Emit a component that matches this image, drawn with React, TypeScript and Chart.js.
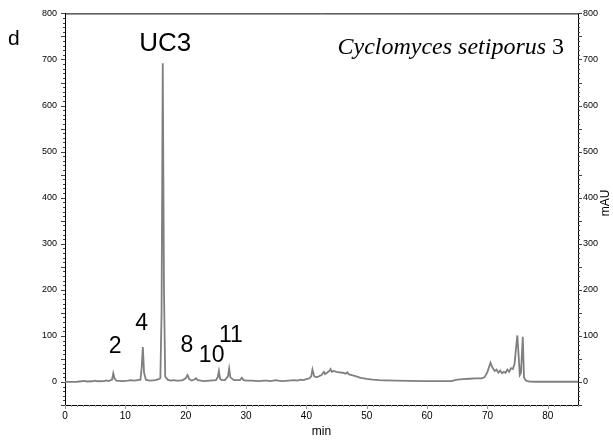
import React, { useEffect, useRef } from "react";
import { Chart, registerables } from "chart.js";

Chart.register(...registerables);

// Retention time (min)
const times: number[] = [
  0, 2, 3.3, 3.6, 4.5, 5, 5.4, 6.5, 6.8, 7.2, 7.8, 8.0, 8.2, 8.5, 9.5, 10.5, 10.8, 11.5, 12.0, 12.5,
  12.7, 12.9, 13.1, 13.4, 14, 15, 15.5, 15.8, 16.0, 16.2, 16.4, 16.6, 17, 17.5, 18, 18.5, 19, 19.5,
  20.0, 20.3, 20.6, 21, 21.5, 21.7, 22, 23, 24, 25, 25.3, 25.5, 25.7, 26, 26.5, 27.0, 27.2, 27.4, 28,
  29, 29.3, 29.6, 30, 31, 32, 33, 33.5, 34, 35, 35.3, 36, 37, 38, 38.5, 39, 39.5, 40, 40.5, 40.8,
  41.0, 41.3, 41.7, 42, 42.5, 42.9, 43.1, 43.5, 43.8, 44, 44.2, 44.5, 45, 45.5, 46, 46.5, 46.8, 47,
  47.5, 48, 48.5, 49, 50, 51, 52, 53, 55, 57, 60, 63, 64, 65, 66, 67, 68, 69, 69.5, 70, 70.5, 70.8,
  71.2, 71.5, 71.8, 72.1, 72.4, 72.7, 73, 73.3, 73.6, 73.9, 74.2, 74.5, 74.7, 74.95, 75.15, 75.35,
  75.55, 75.85, 76.05, 76.3, 76.6, 77, 78, 80, 85,
];

// Absorbance (mAU)
const absorbance: number[] = [
  0, 0.5, 2.5, 1, 1.5, 3, 1.5, 2, 3.5, 2, 5, 19, 8, 3, 2, 3, 4, 3, 4, 5,
  30, 76, 20, 5, 3, 4, 6, 8, 150, 692, 200, 12, 5, 3, 4, 3, 3, 4,
  8, 15, 6, 3, 6, 8, 4, 2, 3, 4, 10, 24, 7, 4, 4, 12, 29, 10, 4,
  4, 9, 4, 3, 3, 2, 3, 3, 2, 4, 3, 2, 3, 4, 3, 5, 4, 6, 8, 12,
  27, 12, 10, 12, 15, 22, 17, 21, 24, 28, 22, 24, 22, 21, 20, 18, 21, 17,
  15, 13, 11, 9, 6.5, 5, 4, 3.5, 3, 2.5, 2, 2, 2, 5, 6, 7, 8, 8, 10, 22, 42, 32,
  24, 27, 20, 25, 19, 22, 20, 27, 22, 30, 28, 40, 70, 101, 60, 15, 20,
  98, 10, 4, 2, 1, 0.5, 0.5, 0.5,
];

// Axis tick labels
const xTickValues: number[] = [0, 10, 20, 30, 40, 50, 60, 70, 80];
const yTickValues: number[] = [0, 100, 200, 300, 400, 500, 600, 700, 800];

// Peak labels: [text, time, mAU]
const peakLabels: [string, number, number][] = [
  ["2", 8.3, 62],
  ["4", 12.7, 112],
  ["8", 20.2, 65],
  ["10", 24.3, 43],
  ["11", 27.5, 86],
];

const App: React.FC = () => {
  const canvasRef = useRef<HTMLCanvasElement | null>(null);

  useEffect(() => {
    if (!canvasRef.current) return;

    const decorPlugin = {
      id: "decor",
      afterDraw(chart: any) {
        const ctx = chart.ctx as CanvasRenderingContext2D;
        const xs = chart.scales.x;
        const ys = chart.scales.y;
        const ca = chart.chartArea;
        ctx.save();
        // top border
        ctx.strokeStyle = "#000";
        ctx.lineWidth = 1;
        ctx.beginPath();
        ctx.moveTo(ca.left, ca.top + 0.5);
        ctx.lineTo(ca.right, ca.top + 0.5);
        ctx.stroke();

        // tick marks
        ctx.strokeStyle = "#444";
        ctx.lineWidth = 1;
        for (let v = -50; v <= 800; v += 10) {
          const py = Math.round(ys.getPixelForValue(v)) + 0.5;
          const len = v % 50 === 0 ? 4 : 2;
          ctx.beginPath();
          ctx.moveTo(ca.left, py);
          ctx.lineTo(ca.left - len, py);
          ctx.moveTo(ca.right, py);
          ctx.lineTo(ca.right + len, py);
          ctx.stroke();
        }
        ctx.strokeStyle = "#999";
        for (let t = 0; t <= 85; t += 1) {
          const px = Math.round(xs.getPixelForValue(t)) + 0.5;
          const len = t % 10 === 0 ? 4 : 2;
          ctx.beginPath();
          ctx.moveTo(px, ca.bottom);
          ctx.lineTo(px, ca.bottom + len);
          ctx.stroke();
        }

        // texts
        ctx.fillStyle = "#000";
        ctx.textBaseline = "alphabetic";
        ctx.font = "21px 'Liberation Sans', Arial, sans-serif";
        ctx.textAlign = "left";
        ctx.fillText("d", 8, 45);

        ctx.font = "26px 'Liberation Sans', Arial, sans-serif";
        ctx.textAlign = "center";
        ctx.fillText("UC3", xs.getPixelForValue(16.6), ys.getPixelForValue(718));

        ctx.font = "23px 'Liberation Sans', Arial, sans-serif";
        for (const [txt, t, v] of peakLabels) {
          ctx.fillText(txt, xs.getPixelForValue(t), ys.getPixelForValue(v));
        }

        // species name
        const rightX = xs.getPixelForValue(82.7);
        const baseY = ys.getPixelForValue(711);
        ctx.textAlign = "right";
        ctx.font = "24px 'Liberation Serif', 'Times New Roman', serif";
        const numW = ctx.measureText("3").width;
        ctx.fillText("3", rightX, baseY);
        ctx.font = "italic 24px 'Liberation Serif', 'Times New Roman', serif";
        ctx.fillText("Cyclomyces setiporus ", rightX - numW, baseY);

        // mAU
        ctx.font = "12px 'Liberation Sans', Arial, sans-serif";
        ctx.textAlign = "center";
        ctx.textBaseline = "middle";
        ctx.translate(606, 203);
        ctx.rotate(-Math.PI / 2);
        ctx.fillText("mAU", 0, 0);
        ctx.restore();
      },
    };

    const yTicksOpts = {
      font: { family: "'Liberation Sans', Arial, sans-serif", size: 9 },
      color: "#000",
    };

    const chart = new Chart(canvasRef.current, {
      type: "line",
      data: {
        datasets: [
          {
            data: times.map((t, i) => ({ x: t, y: absorbance[i] })),
            borderColor: "#7f7f7f",
            borderWidth: 1.8,
            pointRadius: 0,
            fill: false,
            tension: 0,
          },
        ],
      },
      options: {
        responsive: false,
        animation: false,
        events: [],
        layout: { padding: { top: 12, left: 0, right: 0, bottom: 0 } },
        plugins: { legend: { display: false }, tooltip: { enabled: false } },
        scales: {
          x: {
            type: "linear",
            position: "bottom",
            min: 0,
            max: 85,
            afterBuildTicks: (s: any) => {
              s.ticks = xTickValues.map((v) => ({ value: v }));
            },
            afterFit: (s: any) => {
              s.height = 38;
            },
            grid: { display: false, drawTicks: false },
            border: { display: true, color: "#000", width: 1 },
            ticks: {
              font: { family: "'Liberation Sans', Arial, sans-serif", size: 10 },
              color: "#000",
              padding: 5,
              maxRotation: 0,
            },
            title: {
              display: true,
              text: "min",
              font: { family: "'Liberation Sans', Arial, sans-serif", size: 12 },
              color: "#000",
            },
          },
          y: {
            type: "linear",
            position: "left",
            min: -50,
            max: 800,
            afterBuildTicks: (s: any) => {
              s.ticks = yTickValues.map((v) => ({ value: v }));
            },
            afterFit: (s: any) => {
              s.width = 65;
            },
            grid: { display: false, drawTicks: false },
            border: { display: true, color: "#000", width: 1 },
            ticks: { ...yTicksOpts, padding: 8 },
          },
          y2: {
            type: "linear",
            position: "right",
            min: -50,
            max: 800,
            afterBuildTicks: (s: any) => {
              s.ticks = yTickValues.map((v) => ({ value: v }));
            },
            afterFit: (s: any) => {
              s.width = 35;
            },
            grid: { display: false, drawTicks: false },
            border: { display: true, color: "#000", width: 1 },
            ticks: { ...yTicksOpts, padding: 5 },
          },
        },
      },
      plugins: [decorPlugin],
    } as any);

    return () => {
      chart.destroy();
    };
  }, []);

  return (
    <div style={{ position: "fixed", left: 0, top: 0, width: 613, height: 443, background: "#fff" }}>
      <canvas ref={canvasRef} width={613} height={443} style={{ width: 613, height: 443 }} />
    </div>
  );
};

export default App;
